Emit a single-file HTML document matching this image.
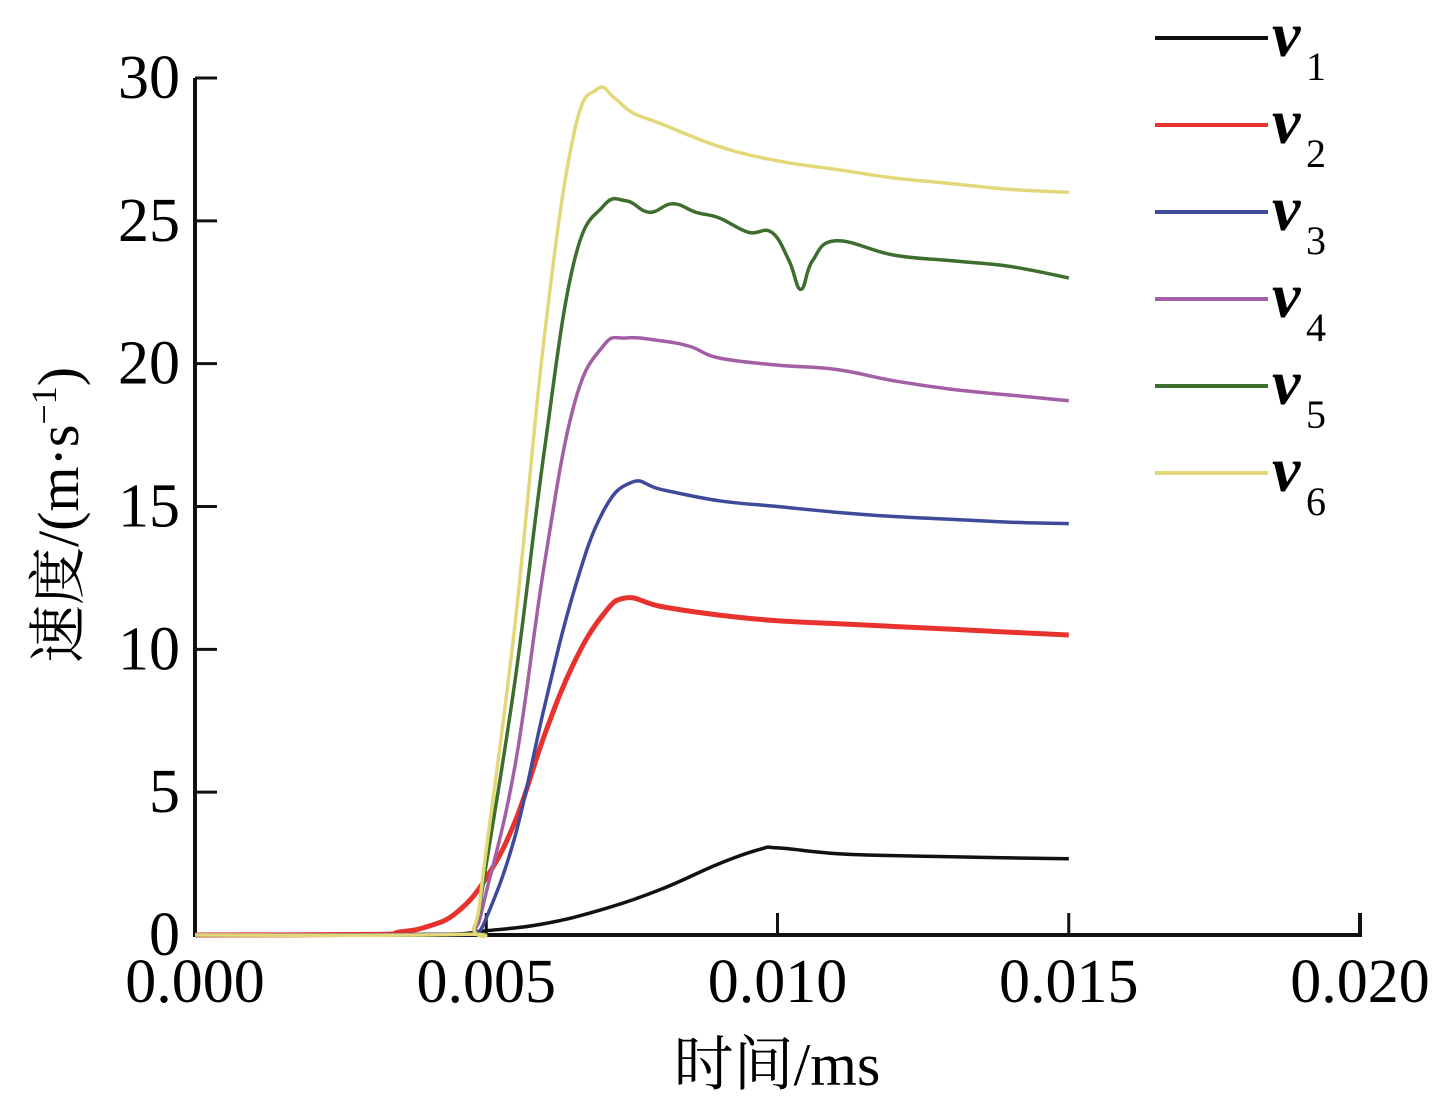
<!DOCTYPE html>
<html><head><meta charset="utf-8"><style>
body{margin:0;background:#fff}
svg{display:block;font-family:"Liberation Serif","Noto Serif CJK SC",serif}
</style></head><body>
<svg id="c" width="1434" height="1106">
<g id="axes"></g>
<g id="series"></g>
<g id="legend"></g>
<text x="777" y="1085" text-anchor="middle" font-size="60">时间/ms</text>
<text transform="translate(78,515) rotate(-90)" text-anchor="middle" font-size="58">速度/(m·s<tspan font-size="36" dy="-22">−1</tspan><tspan dy="22">)</tspan></text>
</svg>
<script>
const xTicks=[0,0.005,0.010,0.015,0.020];
const xTickLabels=["0.000","0.005","0.010","0.015","0.020"];
const yTicks=[0,5,10,15,20,25,30];
const seriesNames=["1","2","3","4","5","6"];
const seriesColors=["#111","#e8322d","#3f4a9a","#a35fa6","#3d6e2d","#e3d879"];
const t1=[0,0.004,0.005,0.006,0.007,0.008,0.009,0.0097,0.010,0.011,0.012,0.013,0.014,0.015];
const v1=[0,0.02,0.15,0.4,0.9,1.6,2.5,3.0,3.05,2.85,2.78,2.74,2.7,2.67];
const t2=[0,0.003,0.0035,0.004,0.0045,0.005,0.0055,0.006,0.0065,0.007,0.0074,0.008,0.009,0.010,0.011,0.012,0.013,0.014,0.015];
const v2=[0,0.02,0.1,0.3,0.8,2.0,4.0,7.0,9.5,11.2,11.8,11.5,11.2,11.0,10.9,10.8,10.7,10.6,10.5];
const t3=[0,0.0045,0.0048,0.005,0.0055,0.006,0.0065,0.007,0.0075,0.008,0.009,0.010,0.011,0.012,0.013,0.014,0.015];
const v3=[0,0.02,0.1,0.6,3.5,8,12,14.8,15.85,15.6,15.2,15.0,14.8,14.65,14.55,14.45,14.4];
const t4=[0,0.0045,0.0048,0.005,0.0055,0.006,0.0065,0.007,0.0074,0.008,0.0085,0.009,0.010,0.011,0.012,0.013,0.014,0.015];
const v4=[0,0.02,0.2,1.5,6,13,18.5,20.6,20.9,20.8,20.6,20.2,19.95,19.8,19.4,19.1,18.9,18.7];
const t5=[0,0.0045,0.0048,0.005,0.0055,0.006,0.0065,0.007,0.0074,0.0078,0.0082,0.0086,0.009,0.0095,0.0099,0.0102,0.0104,0.0106,0.011,0.012,0.013,0.014,0.015];
const v5=[0,0.02,0.3,2.5,9,17,23.5,25.5,25.7,25.3,25.6,25.3,25.1,24.6,24.6,23.6,22.6,23.6,24.3,23.8,23.6,23.4,23.0];
const t6=[0,0.0045,0.0048,0.005,0.0055,0.006,0.0065,0.0069,0.0072,0.0075,0.008,0.009,0.010,0.011,0.012,0.013,0.014,0.015];
const v6=[0,0.02,0.3,3,11,21,28,29.6,29.3,28.8,28.4,27.6,27.1,26.8,26.5,26.3,26.1,26.0];
const allT=[t1,t2,t3,t4,t5,t6], allV=[v1,v2,v3,v4,v5,v6];
const NS="http://www.w3.org/2000/svg";
const X0=195,X1=1360,Y0=935,Y1=78;
const xs=t=>X0+t/0.02*(X1-X0);
const ys=v=>Y0-v/30*(Y0-Y1);
function mk(tag,attrs,parent){const e=document.createElementNS(NS,tag);for(const k in attrs)e.setAttribute(k,attrs[k]);parent.appendChild(e);return e;}
function smooth(P){
 let d='M'+P[0][0].toFixed(1)+','+P[0][1].toFixed(1);
 for(let i=0;i<P.length-1;i++){
  const p0=P[i-1]||P[i],p1=P[i],p2=P[i+1],p3=P[i+2]||P[i+1];
  const k=0.2;
  const c1=[p1[0]+(p2[0]-p0[0])*k,p1[1]+(p2[1]-p0[1])*k];
  const c2=[p2[0]-(p3[0]-p1[0])*k,p2[1]-(p3[1]-p1[1])*k];
  d+='C'+c1[0].toFixed(1)+','+c1[1].toFixed(1)+' '+c2[0].toFixed(1)+','+c2[1].toFixed(1)+' '+p2[0].toFixed(1)+','+p2[1].toFixed(1);
 }
 return d;
}
const ax=document.getElementById('axes');
let e=mk('path',{d:`M${X0},${Y1}V${Y0}H${X1}V${Y0-22}`,fill:'none',stroke:'#111','stroke-width':4},ax);


xTicks.forEach((t,i)=>{
 const l=mk('line',{x1:xs(t),x2:xs(t),y1:Y0,y2:Y0-22,stroke:'#111','stroke-width':3},ax);
 
 
 const tx=mk('text',{x:xs(t),y:1002,'text-anchor':'middle','font-size':62},ax);
 tx.textContent=xTickLabels[i];
 
 
});
yTicks.forEach(v=>{
 const l=mk('line',{x1:X0,x2:X0+22,y1:ys(v),y2:ys(v),stroke:'#111','stroke-width':3},ax);
 
 
 const tx=mk('text',{x:180,y:ys(v)+20,'text-anchor':'end','font-size':62},ax);
 tx.textContent=String(v);
 
 
});
const sg=document.getElementById('series');
allT.forEach((T,i)=>{
 const P=T.map((t,j)=>[xs(t),ys(allV[i][j])]);
 const p=mk('path',{d:smooth(P),fill:'none',stroke:seriesColors[i],'stroke-width':i==1?5:3.5,'stroke-linejoin':'round'},sg);
 
 
});
const lg=document.getElementById('legend');
seriesNames.forEach((n,i)=>{
 const y=38+i*87;
 const g=mk('g',{},lg);
 
 
 mk('line',{x1:1155,x2:1268,y1:y,y2:y,stroke:seriesColors[i],'stroke-width':4},g);
 const tx=mk('text',{x:1272,y:y+18,'font-size':64,'font-style':'italic','font-weight':'bold'},g);
 tx.textContent='v';
 const sb=mk('text',{x:1306,y:y+42,'font-size':40},g);
 sb.textContent=n;
});
</script>
</body></html>
